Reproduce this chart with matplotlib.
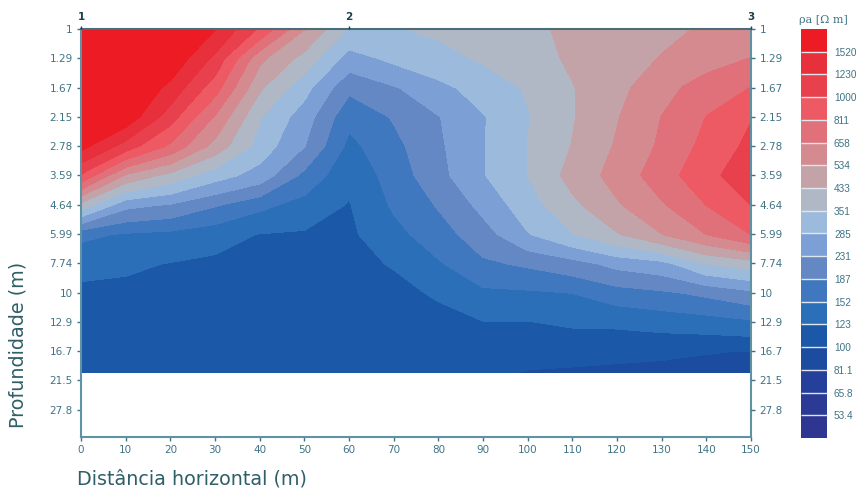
import numpy as np
import matplotlib
matplotlib.use('Agg')
import matplotlib.pyplot as plt
from matplotlib.ticker import NullLocator

# Pseudosection: one row per depth, one column per 10 m
dist = [0, 10, 20, 30, 40, 50, 60, 70, 80, 90, 100, 110, 120, 130, 140, 150]
depth = [1, 1.29, 1.67, 2.15, 2.78, 3.59, 4.64, 5.99, 7.74, 10, 12.9, 16.7, 20]
rho = [
    [2000, 2000, 2000, 1520, 960, 534, 340, 345, 365, 395, 420, 445, 470, 510, 545, 590],
    [2000, 2000, 1800, 1160, 560, 400, 260, 298, 325, 360, 400, 445, 490, 538, 600, 658],
    [1900, 1950, 1420, 880, 445, 305, 195, 225, 268, 310, 358, 428, 500, 610, 720, 811],
    [1800, 1750, 1090, 640, 355, 255, 160, 190, 228, 280, 345, 425, 525, 658, 811, 985],
    [1620, 1110, 770, 490, 320, 231, 143, 175, 222, 280, 351, 435, 545, 680, 860, 1050],
    [960, 510, 400, 310, 260, 175, 130, 165, 215, 280, 350, 465, 575, 735, 930, 1150],
    [395, 245, 225, 190, 160, 140, 121, 156, 190, 245, 320, 410, 520, 640, 811, 1000],
    [160, 148, 143, 133, 122, 120, 118, 142, 170, 210, 280, 345, 425, 530, 658, 811],
    [130, 127, 122, 118, 116, 116, 115, 125, 148, 180, 193, 212, 246, 265, 350, 390],
    [118, 117, 116, 115, 114, 113, 112, 114, 127, 145, 147, 152, 170, 180, 195, 218],
    [112, 112, 112, 111, 111, 110, 110, 108, 112, 122, 122, 127, 128, 133, 138, 146],
    [108, 108, 108, 108, 108, 108, 108, 105, 106, 109, 106, 105, 105, 104, 101, 99],
    [105, 105, 105, 105, 105, 105, 105, 104, 104, 103, 99, 98, 96, 94, 92, 90],
]

levels = [53.4, 65.8, 81.1, 100, 123, 152, 187, 231, 285, 351, 433, 534, 658, 811, 1000, 1230, 1520]
level_labels = ['53.4', '65.8', '81.1', '100', '123', '152', '187', '231', '285', '351',
                '433', '534', '658', '811', '1000', '1230', '1520']
colors = ['#2e3692', '#2b3a94', '#25409a', '#1c4ca0', '#1b58a8', '#2a6fb8', '#3f78bf', '#6388c4',
          '#7c9fd6', '#9cbadb', '#b0b8c6', '#c4a3a8', '#d58a90', '#e0707a', '#ee5a64', '#e8404c',
          '#e8303d', '#ed1c24']

depth_ticks = [1, 1.29, 1.67, 2.15, 2.78, 3.59, 4.64, 5.99, 7.74, 10, 12.9, 16.7, 21.5, 27.8]
depth_labels = ['1', '1.29', '1.67', '2.15', '2.78', '3.59', '4.64', '5.99', '7.74', '10',
                '12.9', '16.7', '21.5', '27.8']
dist_ticks = [0, 10, 20, 30, 40, 50, 60, 70, 80, 90, 100, 110, 120, 130, 140, 150]
stations = [0, 60, 150]
station_labels = ['1', '2', '3']

W, H = 856, 490
teal = '#3f7385'
spine = '#5f93a3'

fig = plt.figure(figsize=(W / 100, H / 100), dpi=100)
ax = fig.add_axes([81 / W, 1 - 437 / H, 670 / W, 408 / H])

cf = ax.contourf(dist, depth, np.log10(rho), levels=np.log10(levels), colors=colors, extend='both')
cf.set_edgecolor('face')

ax.set_yscale('log')
ax.set_ylim(35.3, 1)
ax.set_xlim(0, 150)
ax.set_yticks(depth_ticks)
ax.set_yticklabels(depth_labels)
ax.yaxis.set_minor_locator(NullLocator())
ax.set_xticks(dist_ticks)
ax.tick_params(colors=teal, labelsize=7.5, length=3, width=1, pad=3)
ax.set_xlabel('Distância horizontal (m)', fontsize=13.8, color='#2f5f68', loc='left')
ax.xaxis.set_label_coords(-0.006, -0.08)
ax.set_ylabel('Profundidade (m)', fontsize=13.8, color='#2f5f68')
ax.yaxis.set_label_coords(-0.08, 0.225)
for s in ax.spines.values():
    s.set_color(spine)
    s.set_linewidth(1.5)
ax.spines['top'].set_color('#4a6d78')

# same depth ticks repeated on the right
axr = ax.twinx()
axr.set_yscale('log')
axr.set_ylim(ax.get_ylim())
axr.set_yticks(depth_ticks)
axr.set_yticklabels(depth_labels)
axr.yaxis.set_minor_locator(NullLocator())
axr.tick_params(colors=teal, labelsize=7.5, length=3, width=1, pad=3)
for s in axr.spines.values():
    s.set_visible(False)

# electrode numbers on top
axt = ax.twiny()
axt.set_xlim(ax.get_xlim())
axt.set_xticks(stations)
axt.set_xticklabels(station_labels, fontweight='bold')
axt.tick_params(colors='#1f3f4a', labelsize=7.5, length=2, width=1, pad=3)
for s in axt.spines.values():
    s.set_visible(False)

cax = fig.add_axes([801 / W, 1 - 438 / H, 26 / W, 409 / H])
cb = fig.colorbar(cf, cax=cax, spacing='uniform', extend='both', extendrect=True, extendfrac='auto',
                  drawedges=True)
cb.set_ticks(np.log10(levels))
cb.set_ticklabels(level_labels)
cb.ax.tick_params(length=0, labelsize=7.2, labelcolor=teal, pad=5)
for t in cb.ax.get_yticklabels():
    t.set_family('Liberation Sans')
cb.outline.set_visible(False)
cb.dividers.set_color('#dfe6ee')
cb.dividers.set_linewidth(1)
fig.text(799 / W, 1 - 20 / H, 'ρa [Ω m]', fontsize=8, color=teal, family='DejaVu Serif', va='center')

fig.savefig('out.png', dpi=100)
